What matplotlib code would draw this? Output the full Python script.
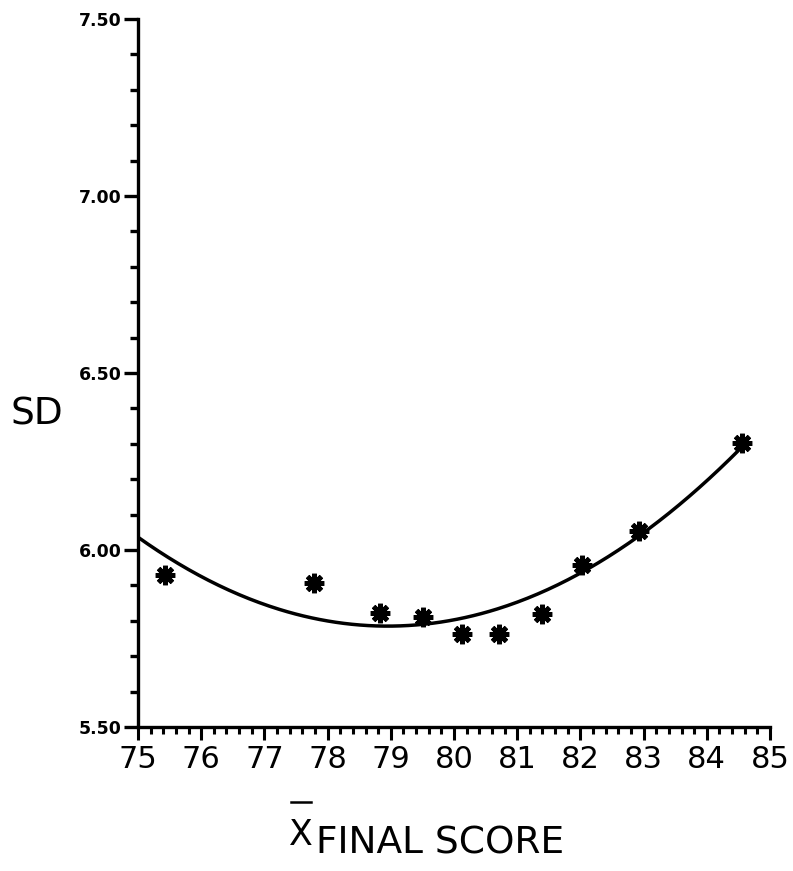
import matplotlib
matplotlib.use("Agg")
import matplotlib.pyplot as plt
import numpy as np
from matplotlib.ticker import MultipleLocator, FixedLocator
from matplotlib.lines import Line2D

# Data
mean_final = [75.42, 77.78, 78.83, 79.51, 80.12, 80.71, 81.40, 82.03, 82.93, 84.55]
sd_values = [5.929, 5.906, 5.823, 5.812, 5.762, 5.762, 5.819, 5.958, 6.055, 6.301]

# Fitted quadratic curve, vertex form: y = a*(x-h)^2 + k
curve_a = 0.0161
curve_h = 78.95
curve_k = 5.785
curve_range = [75.0, 84.55]

x_ticks = [75, 76, 77, 78, 79, 80, 81, 82, 83, 84, 85]
y_ticks = [5.50, 6.00, 6.50, 7.00, 7.50]
y_tick_labels = ["5.50", "6.00", "6.50", "7.00", "7.50"]

W, H = 793, 871
fig = plt.figure(figsize=(W / 100, H / 100), dpi=100)
ax = fig.add_axes([138 / W, 1 - 727 / H, (770 - 138) / W, (727 - 19) / H])

xs = np.linspace(curve_range[0], curve_range[1], 300)
ys = curve_a * (xs - curve_h) ** 2 + curve_k
ax.plot(xs, ys, color="black", lw=2.5, solid_capstyle="round")

ax.plot(mean_final, sd_values, linestyle="none", marker=(8, 2, 0),
        markersize=14, markeredgewidth=3.5, color="black")
ax.plot(mean_final, sd_values, linestyle="none", marker="s",
        markersize=6, color="black")

ax.set_xlim(75, 85)
ax.set_ylim(5.50, 7.50)

for side in ["top", "right"]:
    ax.spines[side].set_visible(False)
for side in ["left", "bottom"]:
    ax.spines[side].set_linewidth(2.4)

ax.xaxis.set_major_locator(FixedLocator(x_ticks))
ax.xaxis.set_minor_locator(MultipleLocator(0.2))
ax.yaxis.set_major_locator(FixedLocator(y_ticks))
ax.yaxis.set_minor_locator(MultipleLocator(0.1))
ax.set_yticklabels(y_tick_labels)

ax.tick_params(axis="x", which="major", direction="out", length=9, width=2.2,
               labelsize=22, pad=4)
ax.tick_params(axis="x", which="minor", direction="out", length=5, width=2.2)
ax.tick_params(axis="y", which="major", direction="out", length=10, width=2.4,
               labelsize=12.5, pad=2)
ax.tick_params(axis="y", which="minor", direction="out", length=6, width=2.4)
for lab in ax.get_yticklabels():
    lab.set_fontweight("bold")

fig.text(37 / W, 1 - 414 / H, "SD", fontsize=27, ha="center", va="center")

# x label: X with overbar, then FINAL SCORE
fig.text(289 / W, 1 - 845 / H, "X", fontsize=25, ha="left", va="baseline")
fig.add_artist(Line2D([291 / W, 311 / W], [1 - 802 / H, 1 - 802 / H],
                      transform=fig.transFigure, color="black", lw=1.8))
fig.text(316 / W, 1 - 853 / H, "FINAL SCORE", fontsize=27, ha="left",
         va="baseline")

fig.savefig("out.png", dpi=100)
